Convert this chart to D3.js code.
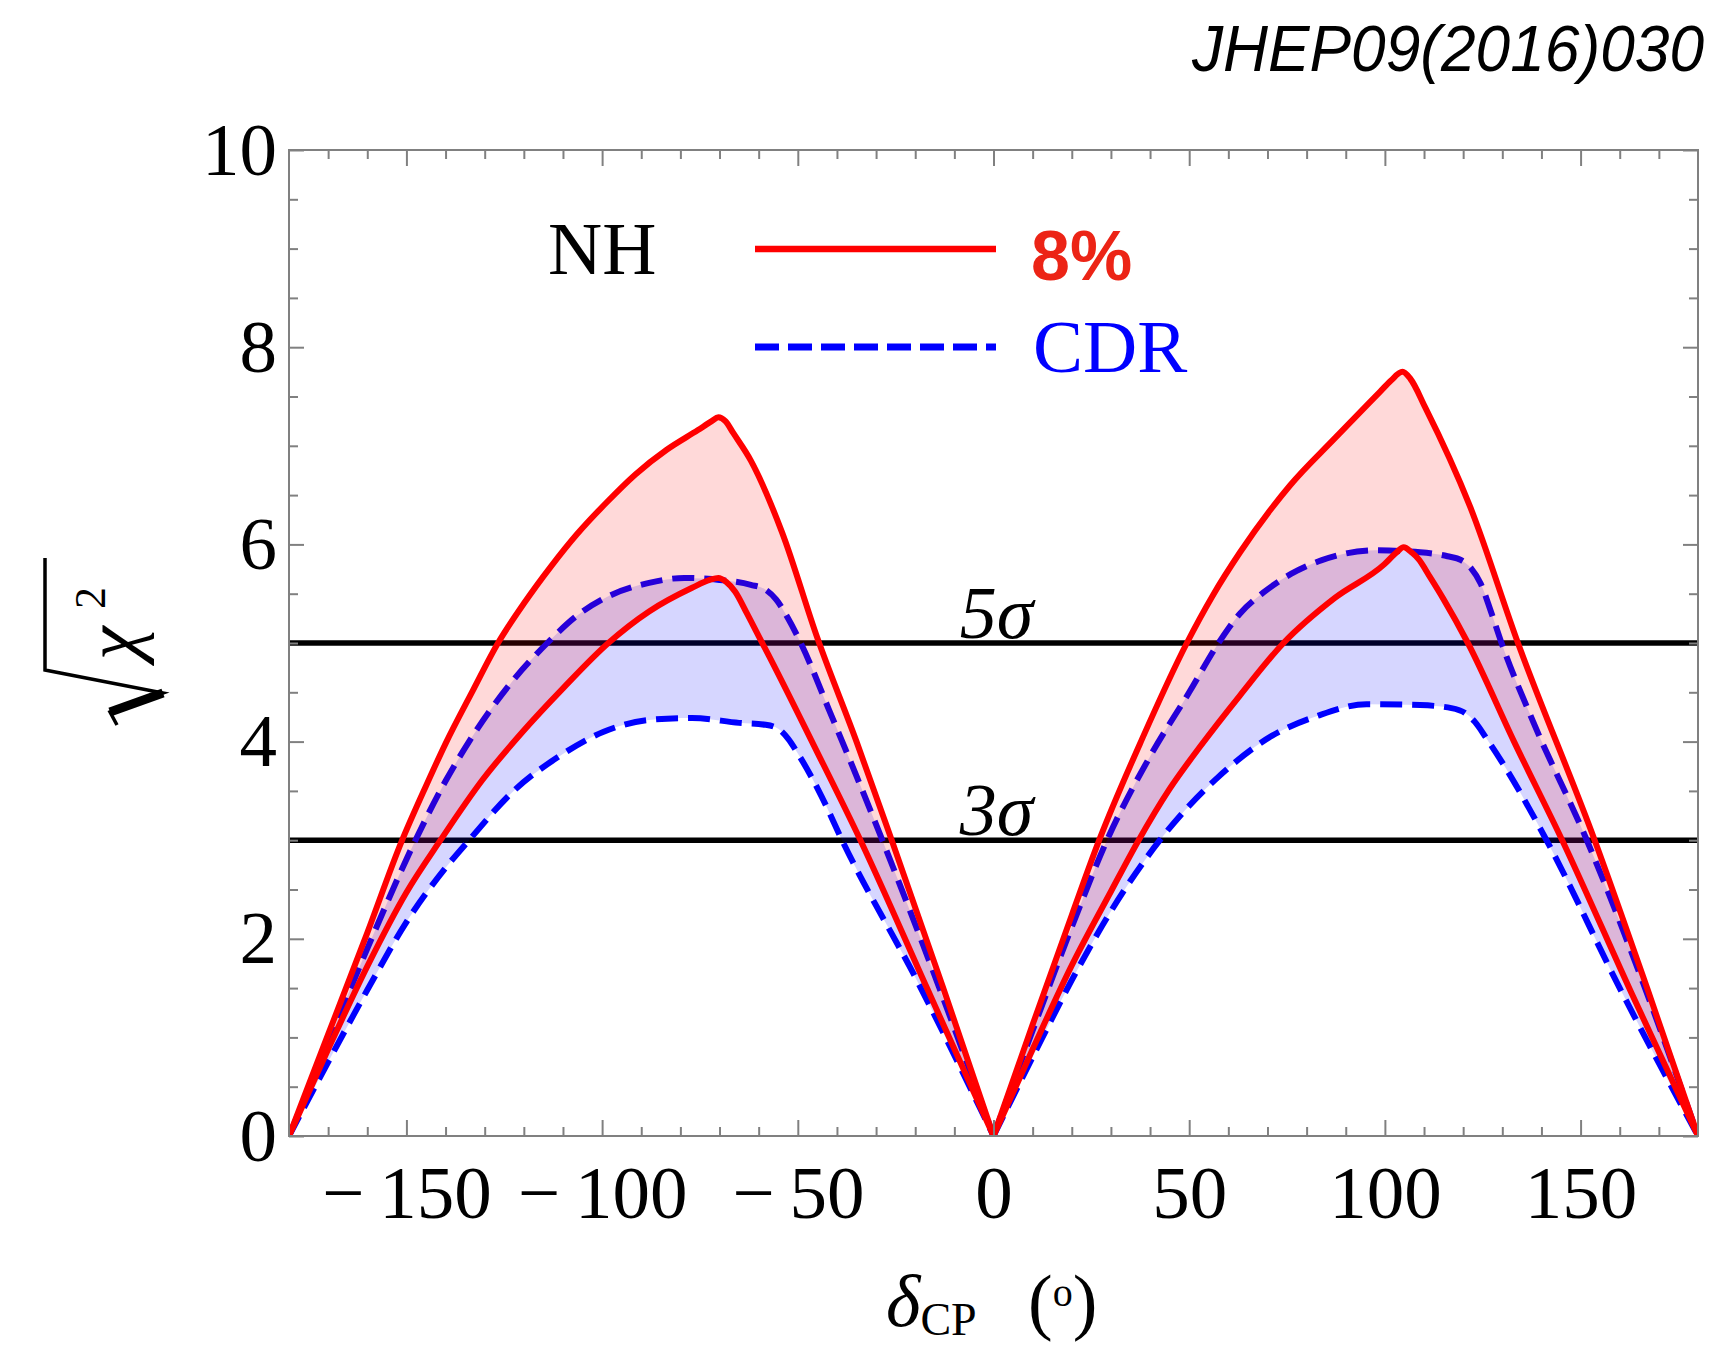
<!DOCTYPE html>
<html>
<head>
<meta charset="utf-8">
<script src="https://cdn.jsdelivr.net/npm/d3@7"></script>
<style>
  body { margin: 0; background: #fff; }
  svg { display: block; }
</style>
</head>
<body>
<svg id="chart" width="1718" height="1346"></svg>
<script>
// curves: [deltaCP (deg), sqrt(chi2)]
var red8Upper = [[-180,0],[-170,1.03],[-160,2.06],[-151.3,2.98],[-145,3.55],[-140,3.98],[-133,4.52],[-126.6,5.0],
  [-120,5.4],[-113,5.78],[-106.5,6.1],[-99,6.42],[-91.5,6.71],[-83.5,6.96],[-75.5,7.16],[-72,7.25],[-70.3,7.29],
  [-68.5,7.25],[-66.5,7.13],[-62,6.85],[-54,6.12],[-45,5.05],[-35,4.0],[-26,3.0],[-13,1.52],[0,0],
  [10,1.13],[20,2.24],[27,3.0],[38,4.03],[49.4,5.0],[56,5.48],[63,5.92],[75.8,6.6],[87.3,7.08],[98.8,7.55],
  [101.5,7.66],[104.5,7.75],[106.5,7.68],[110.3,7.39],[121.8,6.38],[134,5.0],[153.6,3.0],[167,1.5],[180,0]];

var red8Lower = [[-180,0],[-170,0.88],[-160,1.72],[-150,2.47],[-141.3,3.0],[-130.6,3.61],[-120.3,4.1],[-110,4.54],
  [-98.4,5.0],[-88,5.32],[-77,5.56],[-72.5,5.64],[-70.3,5.66],[-68.3,5.62],[-66,5.52],[-63,5.3],[-60,5.07],
  [-57.5,4.88],[-46,3.97],[-34,3.0],[-17,1.5],[0,0],
  [10,0.88],[20,1.73],[30,2.48],[36.8,2.98],[45,3.52],[52.8,3.95],[63,4.47],[74.1,5.0],[87.3,5.46],[99.9,5.8],
  [103,5.92],[104.8,5.97],[106.8,5.92],[108.6,5.85],[111.5,5.67],[114.9,5.45],[121.2,5.0],[133,4.0],[145.3,3.0],
  [163,1.45],[180,0]];

var cdrUpper = [[-180,0],[-170,0.95],[-160,1.9],[-147.7,3.0],[-140,3.6],[-134,4.0],[-124,4.56],[-114,5.0],
  [-106,5.29],[-99.6,5.45],[-88,5.61],[-79,5.66],[-70,5.64],[-62,5.59],[-58.2,5.54],[-55.5,5.44],[-52.5,5.25],
  [-49,4.98],[-42,4.32],[-35,3.65],[-28.4,3.0],[-14,1.52],[0,0],
  [10,1.07],[20,2.12],[29,3.0],[40,3.85],[50,4.5],[57.5,5.0],[63,5.3],[68.9,5.51],[76,5.7],[83.9,5.84],
  [97.6,5.94],[109,5.92],[116,5.88],[119.5,5.84],[122,5.76],[124.5,5.6],[127,5.33],[129.8,5.0],[137.9,4.2],
  [151.6,3.0],[166,1.55],[180,0]];

var cdrLower = [[-180,0],[-170,0.75],[-160,1.48],[-150,2.17],[-140,2.72],[-134,3.0],[-122.6,3.5],[-111,3.85],
  [-99.6,4.1],[-88,4.22],[-77,4.24],[-65,4.19],[-58.2,4.17],[-55,4.13],[-52.5,4.03],[-50,3.88],[-44,3.45],
  [-38.7,3.0],[-19.2,1.55],[0,0],
  [10,0.8],[20,1.58],[30,2.28],[42.5,3.0],[50,3.35],[57.4,3.64],[71.2,4.06],[82.7,4.26],[95.3,4.38],
  [109,4.37],[117,4.34],[120.5,4.29],[123,4.2],[126,4.03],[129.8,3.8],[141.3,3.0],[160,1.5],[180,0]];

var sigmaLevels = [5, 3];
var sigmaLabels = ["5σ", "3σ"];

var xMajorTicks = [-150, -100, -50, 0, 50, 100, 150];
var xTickLabels = ["\u2212\u2009150", "\u2212\u2009100", "\u2212\u200950", "0", "50", "100", "150"];
var yMajorTicks = [0, 2, 4, 6, 8, 10];
var yTickLabels = ["0", "2", "4", "6", "8", "10"];

var legendNames = ["8%", "CDR"];

//------------------------------------
var svg = d3.select("#chart");
var serif = "'Liberation Serif', 'Times New Roman', serif";
var sans = "'Liberation Sans', Arial, sans-serif";

var x = d3.scaleLinear().domain([-180, 180]).range([289, 1698]);
var y = d3.scaleLinear().domain([0, 10]).range([1136, 150]);

var line = d3.line()
    .x(function (d) { return x(d[0]); })
    .y(function (d) { return y(d[1]); })
    .curve(d3.curveMonotoneX);

// split a curve into its two humps (sharp V at 0)
function humps(c) {
    return [c.filter(function (d) { return d[0] <= 0; }),
            c.filter(function (d) { return d[0] >= 0; })];
}

// record the segments d3 draws, so the lower edge of a band can be walked backwards
function segments(pts) {
    var segs = [], start, cur;
    var ctx = {
        moveTo: function (a, b) { start = cur = [a, b]; },
        lineTo: function (a, b) { segs.push({ from: cur, to: [a, b] }); cur = [a, b]; },
        bezierCurveTo: function (a, b, c, d, e, f) {
            segs.push({ from: cur, c1: [a, b], c2: [c, d], to: [e, f] }); cur = [e, f];
        },
        closePath: function () {}
    };
    line.context(ctx)(pts);
    line.context(null);
    return { start: start, segs: segs };
}
function toPath(s, move) {
    var p = (move ? "M" : "L") + s.start;
    s.segs.forEach(function (g) {
        p += g.c1 ? "C" + g.c1 + " " + g.c2 + " " + g.to : "L" + g.to;
    });
    return p;
}
function reversed(s) {
    var segs = s.segs.slice().reverse().map(function (g) {
        return g.c1 ? { from: g.to, c1: g.c2, c2: g.c1, to: g.from } : { from: g.to, to: g.from };
    });
    return { start: segs[0].from, segs: segs };
}
function band(upper, lower) {
    return toPath(segments(upper), true) + toPath(reversed(segments(lower)), false) + "Z";
}

var plot = svg.append("g");
plot.append("defs").append("clipPath").attr("id", "clip")
    .append("rect").attr("x", 289).attr("y", 150).attr("width", 1409).attr("height", 986);

var inner = plot.append("g").attr("clip-path", "url(#clip)");

// sigma lines
inner.selectAll(".sig").data(sigmaLevels).enter().append("line")
    .attr("x1", x(-180)).attr("x2", x(180))
    .attr("y1", function (d) { return y(d); }).attr("y2", function (d) { return y(d); })
    .attr("stroke", "#000").attr("stroke-width", 5.5);

var cdrU = humps(cdrUpper), cdrL = humps(cdrLower);
var redU = humps(red8Upper), redL = humps(red8Lower);

// CDR band
[0, 1].forEach(function (h) {
    inner.append("path").attr("d", band(cdrU[h], cdrL[h]))
        .attr("fill", "#0000ff").attr("fill-opacity", 0.16).attr("stroke", "none");
});
cdrU.concat(cdrL).forEach(function (c) {
    inner.append("path").attr("d", line(c)).attr("fill", "none")
        .attr("stroke", "#0000ff").attr("stroke-width", 6)
        .attr("stroke-dasharray", "22,10");
});

// 8% band
[0, 1].forEach(function (h) {
    inner.append("path").attr("d", band(redU[h], redL[h]))
        .attr("fill", "#ff0000").attr("fill-opacity", 0.15).attr("stroke", "none");
});
redU.concat(redL).forEach(function (c) {
    inner.append("path").attr("d", line(c)).attr("fill", "none")
        .attr("stroke", "#ff0000").attr("stroke-width", 6)
        .attr("stroke-linejoin", "round").attr("stroke-linecap", "round");
});

// sigma labels
plot.selectAll(".siglab").data(sigmaLevels).enter().append("text")
    .attr("x", x(0) + 3).attr("y", function (d) { return y(d) - 5; })
    .attr("text-anchor", "middle")
    .attr("font-family", serif).attr("font-style", "italic").attr("font-size", 74)
    .text(function (d, i) { return sigmaLabels[i]; });

// frame
plot.append("rect").attr("x", 289).attr("y", 150).attr("width", 1409).attr("height", 986)
    .attr("fill", "none").attr("stroke", "#808080").attr("stroke-width", 2);

var xMinor = d3.range(-170, 171, 10).filter(function (v) { return v % 50 !== 0; });
var yMinor = d3.range(0, 10.01, 0.5).filter(function (v) { return v % 2 !== 0; });

function styleAxis(g) {
    g.select(".domain").remove();
    g.selectAll(".tick line").attr("stroke", "#808080").attr("stroke-width", 2);
    g.attr("font-family", serif).attr("font-size", 75);
    g.selectAll(".tick text").attr("fill", "#000");
}

plot.append("g").attr("transform", "translate(0," + y(0) + ")")
    .call(d3.axisBottom(x).tickValues(xMinor).tickSize(-9).tickFormat("")).call(styleAxis);
plot.append("g").attr("transform", "translate(0," + y(0) + ")")
    .call(d3.axisBottom(x).tickValues(xMajorTicks).tickSize(-16).tickPadding(29)
        .tickFormat(function (d, i) { return xTickLabels[i]; })).call(styleAxis);
plot.append("g").attr("transform", "translate(0," + y(10) + ")")
    .call(d3.axisTop(x).tickValues(xMinor).tickSize(-9).tickFormat("")).call(styleAxis);
plot.append("g").attr("transform", "translate(0," + y(10) + ")")
    .call(d3.axisTop(x).tickValues(xMajorTicks).tickSize(-16).tickFormat("")).call(styleAxis);

plot.append("g").attr("transform", "translate(" + x(-180) + ",0)")
    .call(d3.axisLeft(y).tickValues(yMinor).tickSize(-9).tickFormat("")).call(styleAxis);
plot.append("g").attr("transform", "translate(" + x(-180) + ",0)")
    .call(d3.axisLeft(y).tickValues(yMajorTicks).tickSize(-15).tickPadding(12)
        .tickFormat(function (d, i) { return yTickLabels[i]; })).call(styleAxis);
plot.append("g").attr("transform", "translate(" + x(180) + ",0)")
    .call(d3.axisRight(y).tickValues(yMinor).tickSize(-9).tickFormat("")).call(styleAxis);
plot.append("g").attr("transform", "translate(" + x(180) + ",0)")
    .call(d3.axisRight(y).tickValues(yMajorTicks).tickSize(-15).tickFormat("")).call(styleAxis);

// legend
var leg = svg.append("g");
leg.append("text").attr("x", 548).attr("y", 274)
    .attr("font-family", serif).attr("font-size", 75).text("NH");
leg.append("line").attr("x1", 755).attr("x2", 996).attr("y1", 249).attr("y2", 249)
    .attr("stroke", "#ff0000").attr("stroke-width", 6.5);
leg.append("text").attr("x", 1031).attr("y", 280)
    .attr("font-family", sans).attr("font-weight", "bold").attr("font-size", 70)
    .attr("fill", "#ec2416").text(legendNames[0]);
leg.append("line").attr("x1", 755).attr("x2", 996).attr("y1", 347).attr("y2", 347)
    .attr("stroke", "#0000ff").attr("stroke-width", 7).attr("stroke-dasharray", "24,9");
leg.append("text").attr("x", 1033).attr("y", 372)
    .attr("font-family", serif).attr("font-size", 75)
    .attr("fill", "#0000ff").text(legendNames[1]);

// x axis title
var xt = svg.append("text").attr("x", 886).attr("y", 1326)
    .attr("font-family", serif).attr("font-size", 74);
xt.append("tspan").attr("font-style", "italic").text("δ");
xt.append("tspan").attr("font-size", 46).attr("dy", 9).text("CP");
xt.append("tspan").attr("x", 1028).attr("dy", -9).text("(");
xt.append("tspan").attr("font-size", 40).attr("dy", -20).text("o");
xt.append("tspan").attr("dy", 20).text(")");

// y axis title: sqrt(chi^2), rotated
var yt = svg.append("g").attr("transform", "translate(150,642) rotate(-90)");
yt.append("path").attr("d", "M-83,-33L-70,-40L-51,13L-28,-105L84,-105")
    .attr("fill", "none").attr("stroke", "#000").attr("stroke-width", 3.5)
    .attr("stroke-linejoin", "miter");
yt.append("path").attr("d", "M-70,-40L-51,13")
    .attr("fill", "none").attr("stroke", "#000").attr("stroke-width", 9);
yt.append("text").attr("x", -18).attr("y", -12)
    .attr("font-family", serif).attr("font-style", "italic").attr("font-size", 76).text("χ");
yt.append("text").attr("x", 33).attr("y", -45)
    .attr("font-family", serif).attr("font-size", 44).text("2");

// journal reference
svg.append("text").attr("x", 1704).attr("y", 71).attr("text-anchor", "end")
    .attr("font-family", sans).attr("font-style", "italic").attr("font-size", 64)
    .attr("textLength", 512).attr("lengthAdjust", "spacingAndGlyphs")
    .text("JHEP09(2016)030");
</script>
</body>
</html>
